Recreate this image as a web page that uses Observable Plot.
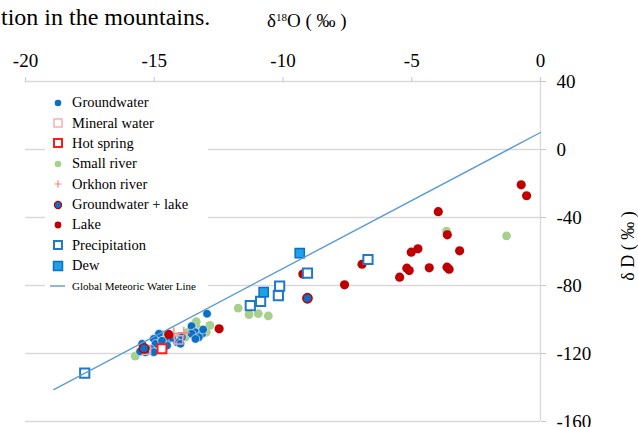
<!DOCTYPE html>
<html>
<head>
<meta charset="utf-8">
<script src="https://cdn.jsdelivr.net/npm/d3@7"></script>
<script src="https://cdn.jsdelivr.net/npm/@observablehq/plot@0.6"></script>
<style>
  html, body { margin: 0; padding: 0; background: #fff; }
  #wrap { position: relative; width: 638px; height: 427px; overflow: hidden; font-family: "Liberation Serif", "Times New Roman", serif; color: #000; }
  #wrap svg.plot, #wrap > svg { position: absolute; left: 0; top: 0; }
  #wrap svg text { font-family: "Liberation Serif", "Times New Roman", serif; }
  .txt { position: absolute; white-space: nowrap; line-height: 1; }
  #legend { position: absolute; left: 45px; top: 84px; width: 163px; height: 214px; background: #fff; }
  .li { position: absolute; left: 0; height: 20px; display: flex; align-items: center; }
  .li svg { width: 26px; height: 20px; flex: none; }
  .li span { font-size: 14.5px; margin-left: 1px; }
</style>
</head>
<body>
<div id="wrap">
  <div class="txt" style="left:1px; top:5px; font-size:24px;">tion in the mountains.</div>
  <div class="txt" style="left:267px; top:11px; font-size:19px;">δ<sup style="font-size:11px; vertical-align:6px;">18</sup>O ( ‰ )</div>
  <div class="txt" style="left:628px; top:246px; font-size:18px; transform: translate(-50%,-50%) rotate(-90deg);">δ D ( ‰ )</div>
</div>
<script>
// ---- data (δ18O, δD) ----
const xTicks = [-20, -15, -10, -5, 0];
const yTicks = [-160, -120, -80, -40, 0, 40];
const gridY = [-160, -120, -80, -40, 0];

const groundwater = [
  [-12.95, -96.6], [-13.55, -103.9], [-13.40, -107.5], [-13.14, -108.4], [-13.27, -110.4],
  [-13.55, -108.4], [-13.40, -111.4], [-13.92, -110.4], [-14.11, -113.4], [-13.98, -114.3],
  [-14.50, -112.4], [-14.50, -115.3], [-14.82, -108.4], [-15.02, -111.4], [-14.95, -114.3],
  [-15.15, -117.2], [-15.02, -119.2], [-15.47, -114.3], [-15.34, -119.2], [-15.55, -118.8],
  [-13.10, -105.9], [-14.30, -110.8], [-14.70, -112.5]
];
const mineralWater = [[-14.05, -112.0], [-15.30, -118.0]];
const hotSpring = [[-14.70, -117.2]];
const smallRiver = [
  [-15.74, -121.6], [-14.76, -108.4], [-14.05, -110.8], [-13.79, -110.4], [-13.37, -101.2],
  [-12.84, -103.5], [-12.98, -107.5], [-13.31, -105.3], [-13.70, -107.6],
  [-11.74, -93.3], [-11.32, -97.1], [-10.96, -96.5], [-10.57, -97.9], [-10.16, -84.5],
  [-3.65, -48.0], [-1.32, -50.8]
];
const orkhonRiver = [[-14.24, -108.2], [-13.85, -107.8]];
const groundwaterLake = [[-9.05, -87.5], [-15.40, -117.0]];
const lake = [
  [-0.75, -20.8], [-0.54, -27.2], [-3.97, -36.6], [-3.62, -50.2], [-5.02, -60.4],
  [-4.76, -58.4], [-3.14, -59.6], [-5.19, -69.8], [-5.10, -71.2], [-4.32, -69.6],
  [-3.63, -69.2], [-3.55, -70.4], [-5.47, -75.1], [-6.93, -67.5], [-7.61, -79.6],
  [-9.23, -73.3], [-12.48, -105.5], [-14.44, -108.8]
];
const precipitation = [
  [-6.70, -64.7], [-9.05, -72.7], [-10.13, -80.4], [-10.18, -85.9], [-10.87, -89.4],
  [-11.27, -91.8], [-17.70, -131.6]
];
const dew = [[-9.35, -61.0], [-10.75, -83.9]];
// Global Meteoric Water Line (δD = 8·δ18O + 10) end points
const gmwlO = [-18.9, 0];
const gmwlD = [-141.2, 10];
const gmwl = gmwlO.map((o, i) => [o, gmwlD[i]]);

const C = {
  gw: "#0b6fc4", mineral: "#f4a3a3", hot: "#ff1a1a", river: "#a6d08c", orkhon: "#ff8080",
  lake: "#c00000", precip: "#1f78c8", dewFill: "#1ea1e8", gmwl: "#5b9bd5", grid: "#d9d9d9"
};
const X = d => d[0], Y = d => d[1];
const FONT = "Liberation Serif";

const chart = Plot.plot({
  width: 638, height: 427,
  marginLeft: 25, marginRight: 98, marginTop: 81, marginBottom: 6,
  style: "font-family: 'Liberation Serif', serif; font-size: 18px; color: #000; background: transparent; overflow: visible;",
  x: { domain: [-20, 0] },
  y: { domain: [-160, 40] },
  marks: [
    Plot.ruleY(gridY, { stroke: C.grid, strokeWidth: 1.3 }),
    Plot.ruleY([40], { stroke: C.grid, strokeWidth: 1.3 }),
    Plot.ruleX([0], { stroke: C.grid, strokeWidth: 1.3 }),
    Plot.axisX(xTicks, { anchor: "top", tickSize: 5, tickPadding: 10, stroke: "#c8c8c8", fill: "#000", fontSize: 19, fontFamily: FONT, tickFormat: d => String(d), label: null }),
    Plot.axisY(yTicks, { anchor: "right", tickSize: 5, tickPadding: 11, stroke: "#c8c8c8", fill: "#000", fontSize: 19, fontFamily: FONT, tickFormat: d => String(d), label: null }),
    Plot.dot(smallRiver, { x: X, y: Y, r: 4.4, fill: C.river }),
    Plot.dot(groundwater, { x: X, y: Y, r: 4.3, fill: C.gw, stroke: "#fff", strokeWidth: 0.6 }),
    Plot.dot(mineralWater, { x: X, y: Y, symbol: "square", r: 4.6, fill: "none", stroke: C.mineral, strokeWidth: 1.5 }),
    Plot.dot(hotSpring, { x: X, y: Y, symbol: "square", r: 5, fill: "#fff", stroke: C.hot, strokeWidth: 2 }),
    Plot.dot(orkhonRiver, { x: X, y: Y, symbol: "plus", r: 4, stroke: C.orkhon, strokeWidth: 1.3 }),
    Plot.dot(groundwaterLake, { x: X, y: Y, r: 4.6, fill: C.gw, stroke: C.lake, strokeWidth: 1.6 }),
    Plot.dot(lake, { x: X, y: Y, r: 4.6, fill: C.lake }),
    Plot.dot(precipitation, { x: X, y: Y, symbol: "square", r: 5.2, fill: "#fff", stroke: C.precip, strokeWidth: 2 }),
    Plot.dot(dew, { x: X, y: Y, symbol: "square", r: 5.2, fill: C.dewFill, stroke: "#0b6fc4", strokeWidth: 1.5 }),
    Plot.line(gmwl, { x: X, y: Y, stroke: C.gmwl, strokeWidth: 1.4 })
  ]
});
const wrap = document.getElementById("wrap");
wrap.insertBefore(chart, wrap.firstChild);

// ---- legend (HTML overlay) ----
const legendItems = [
  { label: "Groundwater", sym: '<circle cx="13" cy="10" r="3.3" fill="' + C.gw + '"/>' },
  { label: "Mineral water", sym: '<rect x="9" y="6" width="8" height="8" fill="#fff" stroke="' + C.mineral + '" stroke-width="1.3"/>' },
  { label: "Hot spring", sym: '<rect x="9" y="6" width="8" height="8" fill="#fff" stroke="' + C.hot + '" stroke-width="2"/>' },
  { label: "Small river", sym: '<circle cx="13" cy="10" r="3.3" fill="' + C.river + '"/>' },
  { label: "Orkhon river", sym: '<path d="M13 6.5V13.5M9.5 10H16.5" stroke="' + C.orkhon + '" stroke-width="1.2"/>' },
  { label: "Groundwater + lake", sym: '<circle cx="13" cy="10" r="3.6" fill="' + C.gw + '" stroke="' + C.lake + '" stroke-width="1.2"/>' },
  { label: "Lake", sym: '<circle cx="13" cy="10" r="3.4" fill="' + C.lake + '"/>' },
  { label: "Precipitation", sym: '<rect x="9" y="6" width="8" height="8" fill="#fff" stroke="' + C.precip + '" stroke-width="2"/>' },
  { label: "Dew", sym: '<rect x="8.5" y="5.5" width="9" height="9" fill="' + C.dewFill + '" stroke="#0b6fc4" stroke-width="1.5"/>' },
  { label: "Global Meteoric Water Line", sym: '<line x1="5" y1="10" x2="20" y2="10" stroke="' + C.gmwl + '" stroke-width="1.4"/>', small: true }
];
const legend = document.createElement("div");
legend.id = "legend";
legendItems.forEach((it, i) => {
  const row = document.createElement("div");
  row.className = "li";
  row.style.top = (8.7 + i * 20.37) + "px";
  row.innerHTML = '<svg viewBox="0 0 26 20">' + it.sym + '</svg><span style="' + (it.small ? 'font-size:11px;' : '') + '">' + it.label + '</span>';
  legend.appendChild(row);
});
wrap.appendChild(legend);
</script>
</body>
</html>
